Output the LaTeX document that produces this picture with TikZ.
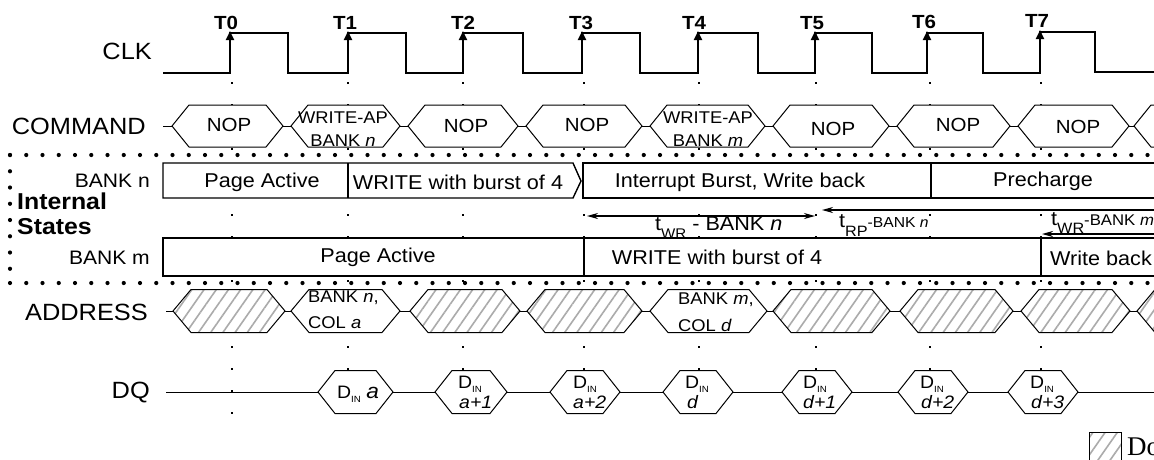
\documentclass[tikz,border=0pt]{standalone}
\usepackage{fontspec}
\setmainfont[FakeStretch=1.08]{Liberation Sans}
\newfontfamily\legendfont{Liberation Serif}
\usetikzlibrary{arrows.meta,patterns.meta}
\newcommand\tdfs[1]{\fontsize{#1}{#1}\selectfont}
\newcommand\dinsub{\raisebox{-4pt}{\tdfs{9}IN}}
\newcommand\tdhex[6][]{\filldraw[hexline,#1] (#2,#4) -- (#2+#6,#4-#5) -- (#3-#6,#4-#5) -- (#3,#4) -- (#3-#6,#4+#5) -- (#2+#6,#4+#5) -- cycle;}
\begin{document}
\begin{tikzpicture}[x=1pt,y=-1pt,
  clk/.style={line width=2.2pt, line join=miter},
  clkarrow/.style={line width=2pt, -{Triangle[length=9pt,width=8pt]}},
  guide/.style={line width=1.8pt, dash pattern=on 1.6pt off 20.4pt},
  sepdots/.style={line width=4.2pt, line cap=round, dash pattern=on 0pt off 16.25pt},
  hexline/.style={draw=black, line width=1pt, fill=white},
  hatch/.style={preaction={fill=white}, pattern={Lines[angle=55,distance=10pt,line width=1.6pt]}, pattern color=black!33},
  boxline/.style={line width=1.4pt},
  divider/.style={line width=2.2pt},
  tarrow/.style={line width=1.5pt},
  tip/.tip={Stealth[length=11pt,width=6pt]},
  big/.style={font=\tdfs{23.5}, inner sep=0pt, anchor=east},
  tlab/.style={font=\bfseries\tdfs{19}, inner sep=0pt},
  cmd/.style={font=\tdfs{19}, inner sep=0pt},
  cmdw/.style={font=\tdfs{17}, inner sep=0pt},
  rowlab/.style={font=\tdfs{19.5}, inner sep=0pt, anchor=east},
  state/.style={font=\tdfs{20}, inner sep=0pt},
  addr/.style={font=\tdfs{17}, inner sep=0pt, anchor=west},
  dq/.style={font=\tdfs{18}, inner sep=0pt, anchor=base west},
  dqi/.style={font=\tdfs{18}\itshape, inner sep=0pt, anchor=base west},
]
\useasboundingbox (0,0) rectangle (1154,459);
\fill[white] (0,0) rectangle (1154,459);
\clip (0,0) rectangle (1154,459);

% clock
\draw[clk] (163,73) -- (230,73) -- (230,33) -- (288,33) -- (288,73) -- (348,73) -- (348,33) -- (406,33) -- (406,73) -- (463,73) -- (463,33) -- (523,33) -- (523,73) -- (582,73) -- (582,33) -- (640,33) -- (640,73) -- (698,73) -- (698,33) -- (758,33) -- (758,73) -- (815,73) -- (815,33) -- (872,33) -- (872,73) -- (927,73) -- (927,33) -- (983,33) -- (983,73) -- (1040,73) -- (1040,32) -- (1095,32) -- (1095,72) -- (1160,72);
\foreach \r in {230,348,463,582,698,815,927} \draw[clkarrow] (\r,60) -- (\r,31);
\draw[clkarrow] (1040,60) -- (1040,30);
\node[tlab] (t0) at (226,23) {T0};
\node[tlab] (t1) at (345,23) {T1};
\node[tlab] (t2) at (463,23) {T2};
\node[tlab] (t3) at (581,23) {T3};
\node[tlab] (t4) at (694,23) {T4};
\node[tlab] (t5) at (812,23) {T5};
\node[tlab] (t6) at (924,22) {T6};
\node[tlab] (t7) at (1037,21) {T7};
\node[big] (clklab) at (152,51) {CLK};

% guide dots
\foreach \x in {232,348,463,584,699,816,930,1041} \draw[guide] (\x,82) -- (\x,418);

% heavy dotted separators
\draw[sepdots] (10,155) -- (1165,155);
\draw[sepdots] (10,283) -- (1165,283);
\draw[sepdots] (10,155) -- (10,283);

% COMMAND row
\node[big] (cmdlab) at (146,126) {COMMAND};
\draw[line width=1pt] (163,126) -- (1160,126);
\tdhex{172}{283}{126}{21}{17}
\tdhex{291}{400}{126}{21}{17}
\tdhex{408}{518}{126}{21}{17}
\tdhex{526}{642}{126}{21}{17}
\tdhex{650}{765}{126}{21}{17}
\tdhex{773}{889}{126}{21}{17}
\tdhex{897}{1010}{126}{21}{17}
\tdhex{1018}{1129}{126}{21}{17}
\tdhex{1134}{1260}{126}{21}{17}
\node[cmd] (c0) at (229,125) {NOP};
\node[cmdw] (c1a) at (343,118) {WRITE-AP};
\node[cmdw] (c1b) at (343,141) {BANK \textit{n}};
\node[cmd] (c2) at (466,126) {NOP};
\node[cmd] (c3) at (587,125) {NOP};
\node[cmdw] (c4a) at (708,118) {WRITE-AP};
\node[cmdw] (c4b) at (708,141) {BANK \textit{m}};
\node[cmd] (c5) at (833,129) {NOP};
\node[cmd] (c6) at (958,125) {NOP};
\node[cmd] (c7) at (1078,127) {NOP};

% Internal states
\node[rowlab] (bnlab) at (150,181) {BANK n};
\node[rowlab] (bmlab) at (150,258) {BANK m};
\node[font=\bfseries\tdfs{23}, inner sep=0pt, anchor=west] (intlab) at (17,201) {Internal};
\node[font=\bfseries\tdfs{23}, inner sep=0pt, anchor=west] (stlab) at (17,227) {States};

\filldraw[boxline, fill=white] (163,163) -- (573,163) -- (581,181) -- (573,198) -- (163,198) -- cycle;
\fill[white] (583,163) rectangle (1160,198);
\draw[boxline] (1160,163) -- (583,163) -- (583,198) -- (1160,198);
\draw[divider] (348,163) -- (348,198);
\draw[divider] (931,163) -- (931,198);
\node[state] (bn1) at (262,182) {Page Active};
\node[state] (bn2) at (458,182) {WRITE with burst of 4};
\node[state] (bn3) at (740,182) {Interrupt Burst, Write back};
\node[state] (bn4) at (1043,181) {Precharge};

\filldraw[boxline, fill=white] (163,238) rectangle (1160,276);
\draw[divider] (584,238) -- (584,276);
\draw[divider] (1041,238) -- (1041,276);
\node[state] (bm1) at (378,257) {Page Active};
\node[state] (bm2) at (717,257) {WRITE with burst of 4};
\node[state, anchor=west] (bm3) at (1050,258) {Write back};

% timing arrows
\coordinate (wrL) at (587,216);
\coordinate (wrR) at (815,216);
\coordinate (rpL) at (822,210);
\coordinate (rpR) at (1160,210);
\coordinate (wmL) at (1042,234);
\coordinate (wmR) at (1160,234);
\draw[tarrow, tip-tip] (wrL) -- (wrR);
\draw[tarrow, tip-] (rpL) -- (rpR);
\draw[tarrow, line width=1.8pt, tip-] (wmL) -- (wmR);
\node[font=\tdfs{20}, inner sep=0pt, anchor=base west] (twr) at (655,230) {t\raisebox{-8pt}{\tdfs{14}WR} - BANK \textit{n}};
\node[font=\tdfs{20}, inner sep=0pt, anchor=base west] (trp) at (839,227) {t\raisebox{-9pt}{\tdfs{15}RP}{\tdfs{14.5}-BANK \textit{n}}};
\node[font=\tdfs{20}, inner sep=0pt, anchor=base west] (twm) at (1051,225) {t\raisebox{-8pt}{\tdfs{15}WR}{\tdfs{15.5}-BANK \textit{m}}};

% ADDRESS row
\node[big] (addrlab) at (148,312) {ADDRESS};
\draw[line width=1pt] (166,311) -- (1160,311);
\tdhex[hatch]{173}{285}{311}{21.5}{18}
\tdhex{291}{400}{311}{21.5}{18}
\tdhex[hatch]{410}{520}{311}{21.5}{18}
\tdhex[hatch]{527}{642}{311}{21.5}{18}
\tdhex{650}{767}{311}{21.5}{18}
\tdhex[hatch]{773}{890}{311}{21.5}{18}
\tdhex[hatch]{900}{1013}{311}{21.5}{18}
\tdhex[hatch]{1021}{1130}{311}{21.5}{18}
\tdhex[hatch]{1137}{1260}{311}{21.5}{18}
\node[addr] (a1a) at (308,298) {BANK \textit{n},};
\node[addr] (a1b) at (308,323) {COL \textit{a}};
\node[addr] (a2a) at (678,300) {BANK \textit{m},};
\node[addr] (a2b) at (678,325) {COL \textit{d}};

% DQ row
\node[big] (dqlab) at (150,393) {DQ};
\draw[line width=1pt] (166,392) -- (1160,392);
\tdhex{318}{393}{392}{21.5}{17}
\tdhex{435}{507}{392}{21.5}{17}
\tdhex{550}{620}{392}{21.5}{17}
\tdhex{663}{733}{392}{21.5}{17}
\tdhex{782}{852}{392}{21.5}{17}
\tdhex{898}{968}{392}{21.5}{17}
\tdhex{1008}{1078}{392}{21.5}{17}
\node[dq] (d1) at (337,398) {D\dinsub\ \tdfs{21}\textit{a}};
\node[dq] (d2a) at (458,388) {D\dinsub};
\node[dqi] (d2b) at (459,408) {a+1};
\node[dq] (d3a) at (573,388) {D\dinsub};
\node[dqi] (d3b) at (573,408) {a+2};
\node[dq] (d4a) at (685,388) {D\dinsub};
\node[dqi] (d4b) at (687,408) {d};
\node[dq] (d5a) at (803,388) {D\dinsub};
\node[dqi] (d5b) at (803,408) {d+1};
\node[dq] (d6a) at (920,388) {D\dinsub};
\node[dqi] (d6b) at (921,408) {d+2};
\node[dq] (d7a) at (1030,388) {D\dinsub};
\node[dqi] (d7b) at (1031,408) {d+3};

% legend
\filldraw[hatch, draw=black, line width=1pt] (1089,432) rectangle (1121,465);
\node[font=\legendfont\tdfs{27}, inner sep=0pt, anchor=base west] (legend) at (1127,455) {Do};
\end{tikzpicture}
\end{document}
